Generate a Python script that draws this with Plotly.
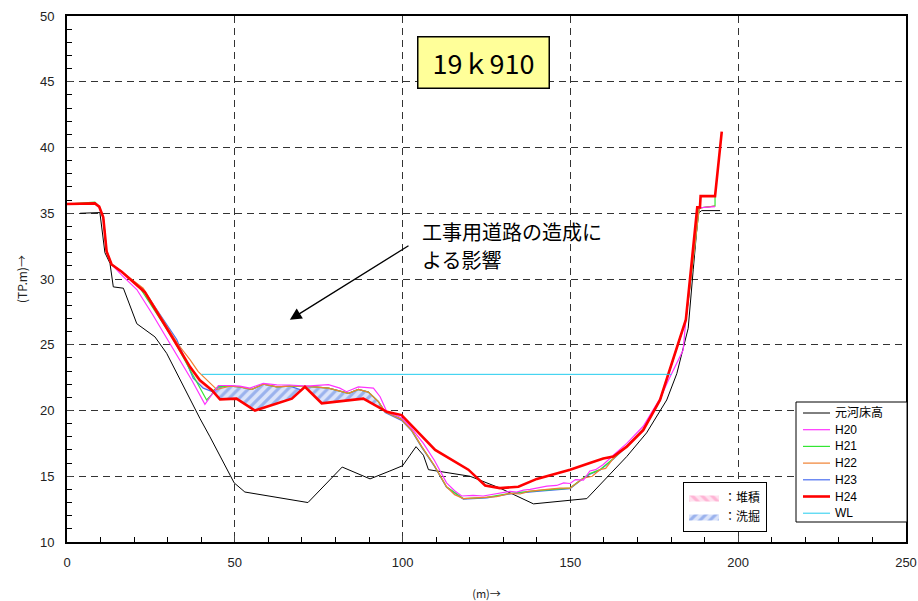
import numpy as np
import plotly.graph_objects as go

# ---- cross-section data (distance m, elevation TP.m) ----
orig_x = [3.9, 9.8, 11.3, 12.8, 13.8, 16.8, 20.8, 26.2, 29.7, 33.7, 39.6, 42.6, 49.8, 53.0,
          71.8, 82.0, 90.3, 96.2, 100.0, 104.0, 106.2, 107.7, 120.1, 129.0, 139.0, 154.9,
          160.8, 166.8, 172.7, 178.7, 181.7, 185.1, 186.6, 188.1, 189.1, 194.6]
orig_y = [35.0, 35.05, 32.0, 31.2, 29.4, 29.3, 26.6, 25.6, 24.35, 22.3, 19.4, 18.0, 14.5, 13.8,
          13.0, 15.7, 14.8, 15.4, 15.8, 17.25, 16.6, 15.5, 15.0, 14.1, 12.9, 13.3,
          14.85, 16.5, 18.3, 20.8, 22.8, 26.25, 30.7, 35.0, 35.2, 35.2]

h20_x = [0, 8.3, 9.6, 10.8, 11.8, 13.3, 16.3, 20.8, 25.5, 30.7, 37.2, 41.1, 43.6, 45.1, 48.6,
         51.5, 54.5, 58.5, 62.5, 66.4, 71.3, 73.9, 77.9, 81.3, 83.3, 86.8, 91.3, 93.3, 95.3,
         99.7, 102.5, 106.2, 109.5, 113.1, 115.5, 117.6, 121.0, 124.0, 126.0, 129.0, 132.0,
         134.0, 136.0, 138.0, 140.0, 143.0, 145.9, 148.0, 149.9, 151.5, 153.9, 155.8, 157.5,
         159.8, 162.8, 166.8, 171.7, 176.7, 179.2, 183.6, 184.4, 187.8, 193.1]
h20_y = [35.7, 35.75, 35.5, 34.7, 32.1, 31.1, 30.3, 29.2, 27.3, 25.1, 22.3, 20.47, 21.4, 21.9, 21.9,
         21.85, 21.7, 22.07, 21.95, 21.94, 21.85, 21.9, 21.97, 21.7, 21.43, 21.8, 21.7, 21.05, 19.9,
         19.45, 18.7, 17.5, 16.2, 14.5, 13.9, 13.5, 13.55, 13.5, 13.6, 13.75, 13.85,
         13.8, 13.95, 14.0, 14.1, 14.25, 14.3, 14.5, 14.45, 14.75, 14.7, 15.4, 15.5,
         15.9, 16.6, 17.5, 18.8, 20.9, 22.3, 24.6, 26.9, 35.4, 35.5]

h21_x = [0, 8.3, 9.6, 10.8, 11.8, 13.3, 16.3, 21.8, 31.7, 37.6, 41.6, 43.1, 43.8, 45.1, 48.6,
         51.5, 55.0, 58.5, 62.5, 66.4, 70.9, 73.9, 77.9, 81.9, 83.9, 86.8, 89.8, 92.8, 94.8,
         99.7, 102.7, 105.7, 109.5, 113.1, 118.1, 125.1, 132.0, 140.0, 149.9, 152.9, 155.8,
         158.8, 162.8, 166.8, 171.7, 176.7, 184.4, 188.4, 193.1, 193.1]
h21_y = [35.7, 35.85, 35.5, 34.7, 32.1, 31.1, 30.55, 29.3, 25.4, 22.6, 20.8, 21.2, 21.56, 21.8, 21.85,
         21.8, 21.6, 22.0, 21.8, 21.85, 21.85, 21.8, 21.7, 21.43, 21.3, 21.6, 21.4, 20.67, 19.9,
         19.35, 18.5, 17.25, 15.8, 14.2, 13.3, 13.4, 13.7, 13.9, 14.1, 14.7, 15.2,
         15.5, 16.35, 17.3, 18.6, 20.8, 26.9, 35.4, 35.55, 36.3]

h22_x = [0, 8.3, 9.6, 10.8, 11.8, 13.3, 16.3, 22.7, 33.2, 36.7, 39.1, 41.6, 44.6, 48.6,
         51.5, 55.0, 58.5, 62.5, 66.4, 70.9, 73.9, 77.9, 81.9, 83.9, 86.8, 89.8, 92.8, 94.8,
         99.7, 102.7, 105.7, 109.5, 113.1, 115.5, 118.1, 121.0, 125.1, 128.0, 132.0, 135.0,
         137.5, 140.0, 143.0, 146.9, 149.9, 151.5, 152.9, 153.9, 156.5, 158.8, 160.5, 162.8,
         166.8, 171.7, 176.7, 184.4, 188.4, 193.1]
h22_y = [35.7, 35.75, 35.5, 34.7, 32.1, 31.1, 30.55, 29.3, 25.0, 23.85, 22.95, 22.3, 21.6, 21.85,
         21.8, 21.6, 22.0, 21.8, 21.85, 21.85, 21.8, 21.7, 21.43, 21.3, 21.6, 21.4, 20.67, 19.9,
         19.3, 18.5, 17.25, 15.8, 14.2, 13.6, 13.3, 13.35, 13.4, 13.45, 13.7, 13.65,
         13.85, 13.9, 14.0, 14.1, 14.1, 14.4, 14.7, 14.85, 15.0, 15.5, 15.6, 16.35,
         17.3, 18.6, 20.8, 26.9, 35.4, 35.55]

h23_x = [0, 8.3, 9.6, 10.8, 11.8, 13.3, 16.3, 22.7, 32.7, 37.6, 40.6, 43.6, 45.1, 48.6,
         51.5, 55.0, 58.5, 62.5, 66.4, 69.9, 70.9, 73.9, 77.9, 81.9, 83.9, 86.8, 89.8, 92.8, 94.8,
         99.7, 102.7, 105.7, 109.5, 113.1, 118.1, 125.1, 132.0, 140.0, 149.9, 152.9, 155.8,
         158.8, 162.8, 166.8, 171.7, 176.7, 184.4, 188.4, 193.1]
h23_y = [35.7, 35.75, 35.5, 34.7, 32.1, 31.1, 30.55, 29.2, 25.4, 22.45, 21.7, 21.4, 21.8, 21.85,
         21.8, 21.6, 22.0, 21.8, 21.85, 21.55, 21.85, 21.8, 21.7, 21.43, 21.3, 21.6, 21.4, 20.67, 19.85,
         19.25, 18.45, 17.2, 15.75, 14.15, 13.25, 13.35, 13.65, 13.85, 14.05, 14.65, 15.15,
         15.45, 16.3, 17.25, 18.55, 20.75, 26.9, 35.4, 35.55]

h24_x = [0, 8.3, 9.6, 10.8, 11.8, 13.3, 16.3, 23.2, 32.7, 36.7, 39.6, 43.1, 45.6, 50.5, 56.0,
         67.0, 70.9, 75.9, 88.3, 95.3, 99.7, 109.7, 119.6, 124.6, 129.0, 134.5, 140.0, 149.9,
         155.8, 159.8, 162.8, 166.8, 171.7, 176.7, 184.4, 187.8, 188.6, 188.8, 193.1, 195.1]
h24_y = [35.7, 35.75, 35.5, 34.7, 32.1, 31.1, 30.55, 29.0, 25.0, 23.3, 22.3, 21.56, 20.85, 20.9, 20.0,
         20.9, 21.8, 20.55, 20.9, 19.9, 19.65, 17.0, 15.5, 14.3, 14.1, 14.2, 14.8, 15.5,
         16.0, 16.35, 16.5, 17.25, 18.5, 20.8, 26.9, 35.45, 35.45, 36.3, 36.3, 41.2]

wl_x = [40.1, 180.2]
wl_y = [22.75, 22.75]

# reach affected by the temporary construction road (H23 -> H24 change is hatched here)
change_range = (34.0, 95.2)

station_label = "19ｋ910"
note_lines = ["工事用道路の造成に", "よる影響"]

# ---- deposition / scour polygons from H23 vs H24 ----
grid = np.arange(change_range[0], change_range[1] + 1e-9, 0.05)
prev_z = np.interp(grid, h23_x, h23_y)
new_z = np.interp(grid, h24_x, h24_y)
diff = new_z - prev_z


def region_polys(mask):
    xs, ys = [], []
    idx = np.where(mask)[0]
    if idx.size == 0:
        return xs, ys
    splits = np.split(idx, np.where(np.diff(idx) > 1)[0] + 1)
    for seg in splits:
        if seg.size < 2:
            continue
        gx = grid[seg]
        top = np.maximum(prev_z[seg], new_z[seg])
        bot = np.minimum(prev_z[seg], new_z[seg])
        xs += list(gx) + list(gx[::-1]) + [gx[0], None]
        ys += list(top) + list(bot[::-1]) + [top[0], None]
    return xs, ys


dep_x, dep_y = region_polys(diff > 0.005)
sc_x, sc_y = region_polys(diff < -0.005)

fig = go.Figure()

fig.add_trace(go.Scatter(
    x=dep_x, y=dep_y, mode="lines", fill="toself", line=dict(width=0),
    fillcolor="rgba(255,214,234,1)",
    fillpattern=dict(shape="\\", fgcolor="#ff88bb", bgcolor="#ffe0ee", size=7, solidity=0.45),
    name="：堆積", legend="legend2", hoverinfo="skip"))
fig.add_trace(go.Scatter(
    x=sc_x, y=sc_y, mode="lines", fill="toself", line=dict(width=0),
    fillcolor="rgba(200,214,245,1)",
    fillpattern=dict(shape="/", fgcolor="#5a80e0", bgcolor="#dbe4fa", size=7, solidity=0.45),
    name="：洗掘", legend="legend2", hoverinfo="skip"))

# draw order (bottom to top) and the row in the key box
series = [
    ("元河床高", orig_x, orig_y, "#000000", 1.0, 0),
    ("H23", h23_x, h23_y, "#4a6ef0", 1.2, 4),
    ("H21", h21_x, h21_y, "#33e633", 1.2, 2),
    ("H22", h22_x, h22_y, "#f08030", 1.2, 3),
    ("H20", h20_x, h20_y, "#ff33ff", 1.2, 1),
    ("H24", h24_x, h24_y, "#ff0000", 2.6, 5),
    ("WL", wl_x, wl_y, "#22ccee", 1.0, 6),
]
for name, xs, ys, col, w, rank in series:
    fig.add_trace(go.Scatter(x=xs, y=ys, mode="lines", name=name, showlegend=False,
                             line=dict(color=col, width=w)))

# ---- key box for the survey lines (paper coordinates) ----
px_to_x = lambda p: (p - 67) / 839
px_to_y = lambda p: (542 - p) / 526
fig.add_shape(type="rect", xref="paper", yref="paper",
              x0=px_to_x(796), x1=px_to_x(907), y0=px_to_y(522), y1=px_to_y(402),
              line=dict(color="#000", width=1), fillcolor="white", layer="above")
for name, xs, ys, col, w, rank in series:
    row_y = px_to_y(413 + rank * 16.7)
    fig.add_shape(type="line", xref="paper", yref="paper",
                  x0=px_to_x(803), x1=px_to_x(830), y0=row_y, y1=row_y,
                  line=dict(color=col, width=w), layer="above")
    fig.add_annotation(x=px_to_x(833), y=row_y, xref="paper", yref="paper", text=name,
                       showarrow=False, xanchor="left", yanchor="middle",
                       font=dict(family="Liberation Sans, Noto Sans CJK JP", size=12, color="#000"))

grid_style = dict(showgrid=True, gridcolor="#333333", gridwidth=1, griddash="7px,5px")
fig.update_xaxes(range=[0, 250], dtick=50, tick0=0, ticks="inside", ticklen=6,
                 minor=dict(dtick=10, ticks="inside", ticklen=5, tickcolor="#000", showgrid=False),
                 showline=True, linecolor="#000", linewidth=2, mirror=True,
                 zeroline=False, ticklabelstandoff=7, automargin=False,
                 tickfont=dict(family="Liberation Sans", size=13, color="#222"),
                 title=dict(text="(m)→", font=dict(family="Noto Sans CJK JP", size=11, color="#222"),
                            standoff=24),
                 **grid_style)
fig.update_yaxes(range=[10, 50], dtick=5, tick0=10, ticks="inside", ticklen=6,
                 minor=dict(dtick=1, ticks="inside", ticklen=5, tickcolor="#000", showgrid=False),
                 showline=True, linecolor="#000", linewidth=2, mirror=True,
                 zeroline=False, ticklabelstandoff=8, automargin=False,
                 tickfont=dict(family="Liberation Sans", size=13, color="#222"),
                 title=dict(text="(TP.m)→", font=dict(family="Noto Sans CJK JP", size=12, color="#222"),
                            standoff=10),
                 **grid_style)

fig.add_annotation(
    x=0.496, y=0.911, xref="paper", yref="paper", text=station_label, showarrow=False,
    font=dict(family="Noto Sans CJK JP", size=27, color="#000"),
    bgcolor="#ffff99", bordercolor="#000", borderwidth=1.5, borderpad=1,
    width=128, height=48, xanchor="center", yanchor="middle")

# arrow pointing from the note toward the affected bank
fig.add_annotation(
    x=66.4, y=26.9, ax=102.2, ay=32.6, xref="x", yref="y", axref="x", ayref="y",
    text="", showarrow=True, arrowhead=2, arrowsize=1.8, arrowwidth=1.3, arrowcolor="#000")

for i, line in enumerate(note_lines):
    fig.add_annotation(
        x=105.6, y=33.65 - i * 2.2, xref="x", yref="y", text=line, showarrow=False,
        align="left", xanchor="left", yanchor="middle", borderpad=0,
        font=dict(family="Noto Sans CJK JP", size=20, color="#000"))

fig.update_layout(
    width=918, height=601,
    margin=dict(l=67, r=12, t=16, b=59),
    paper_bgcolor="white", plot_bgcolor="white",
    showlegend=True,
    legend2=dict(x=px_to_x(683), y=px_to_y(482), xanchor="left", yanchor="top",
                 bgcolor="white", bordercolor="#000", borderwidth=1,
                 font=dict(family="Noto Sans CJK JP", size=12, color="#000"),
                 itemwidth=30, tracegroupgap=0),
)

fig.write_html("out.html")
